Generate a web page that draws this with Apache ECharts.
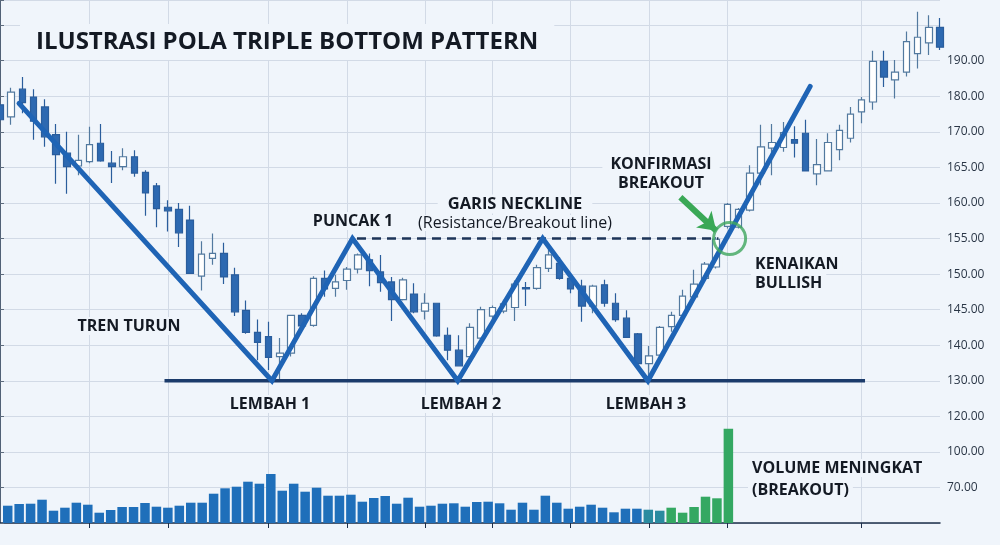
<!DOCTYPE html>
<html>
<head>
<meta charset="utf-8">
<title>Ilustrasi Pola Triple Bottom</title>
<script src="https://cdn.jsdelivr.net/npm/echarts@6.0.0/dist/echarts.min.js"></script>
<style>
  html, body { margin: 0; padding: 0; background: #f0f5fb; }
  #chart { width: 1000px; height: 545px; }
</style>
</head>
<body>
<div id="chart"></div>
<script>
// hari perdagangan (kategori sumbu x)
var days = [];
for (var i = 0; i < 85; i++) { days.push('H' + (i + 1)); }

// [open, close, low, high]
var ohlc = [
  [173.8, 171.7, 171.0, 174.8], [172.1, 175.6, 171.0, 176.2], [176.0, 174.1, 172.6, 177.7],
  [174.9, 171.5, 168.9, 176.0], [173.5, 169.3, 167.9, 174.6], [169.6, 166.8, 162.7, 171.1],
  [167.0, 165.1, 161.3, 170.0], [165.2, 166.0, 163.9, 169.6], [165.8, 168.2, 165.6, 170.7],
  [168.4, 165.9, 165.8, 171.1], [165.6, 165.1, 162.8, 167.3], [165.1, 166.5, 164.6, 167.7],
  [166.5, 164.2, 163.7, 167.4], [164.3, 161.4, 158.2, 164.6], [162.4, 159.2, 156.6, 162.8],
  [159.4, 158.9, 156.0, 160.4], [159.1, 155.8, 153.8, 160.0], [157.6, 150.1, 150.0, 159.6],
  [149.7, 152.8, 147.7, 154.6], [152.2, 152.9, 151.3, 155.7], [152.9, 149.6, 148.6, 154.4],
  [149.9, 144.7, 144.1, 150.9], [144.9, 141.8, 141.6, 146.3], [141.8, 140.4, 137.9, 143.6],
  [141.2, 138.3, 136.5, 143.3], [138.4, 138.9, 135.1, 141.0], [138.9, 144.2, 138.4, 144.2],
  [144.2, 142.7, 142.1, 144.5], [142.8, 149.4, 142.6, 149.7], [149.4, 147.9, 146.8, 150.5],
  [148.0, 148.9, 146.8, 149.9], [149.1, 150.7, 147.8, 151.0], [150.7, 152.7, 150.1, 152.9],
  [152.0, 150.5, 148.3, 152.9], [150.3, 148.8, 147.5, 152.7], [148.9, 146.4, 143.4, 149.6],
  [146.4, 149.2, 146.3, 149.5], [147.2, 144.7, 144.5, 148.7], [144.8, 145.9, 143.6, 147.3],
  [145.9, 141.3, 141.2, 145.9], [141.4, 139.3, 137.9, 142.5], [139.3, 137.1, 137.0, 141.4],
  [138.4, 142.5, 137.4, 143.1], [141.0, 145.0, 140.7, 145.4], [144.1, 145.3, 143.1, 145.6],
  [144.8, 145.8, 144.5, 146.4], [145.3, 148.6, 143.4, 149.1], [148.1, 147.9, 145.5, 148.9],
  [148.0, 150.9, 147.8, 151.3], [150.8, 152.7, 150.3, 153.8], [151.5, 149.4, 149.2, 152.4],
  [149.4, 147.9, 147.3, 149.9], [148.3, 145.5, 143.3, 149.2], [145.5, 148.3, 144.5, 148.5],
  [148.5, 145.9, 145.4, 149.2], [145.9, 143.6, 143.3, 147.3], [143.8, 141.1, 141.0, 144.9],
  [141.6, 137.4, 137.4, 141.7], [137.4, 138.5, 135.1, 139.9], [138.6, 142.5, 138.4, 142.7],
  [142.6, 144.2, 141.9, 144.7], [144.2, 146.9, 144.0, 147.8], [146.8, 148.6, 146.6, 150.6],
  [149.4, 151.4, 149.3, 151.7], [151.0, 154.9, 150.8, 155.2], [156.7, 159.8, 156.4, 160.0],
  [156.6, 159.1, 156.4, 159.3], [159.0, 164.2, 158.8, 165.3], [164.2, 167.9, 162.5, 171.0],
  [167.7, 168.5, 163.9, 171.1], [167.8, 169.9, 167.2, 171.4], [168.9, 168.4, 166.4, 170.8],
  [169.8, 164.5, 164.5, 171.7], [164.1, 165.4, 162.5, 169.0], [164.5, 168.5, 164.5, 169.8],
  [167.5, 170.2, 166.0, 171.0], [169.1, 172.5, 168.5, 173.5], [172.8, 174.5, 171.2, 174.9],
  [174.2, 179.9, 173.1, 181.4], [179.9, 177.7, 176.3, 181.4], [177.3, 178.4, 174.7, 180.1],
  [178.4, 182.7, 177.8, 184.1], [181.0, 183.3, 178.9, 186.9], [182.5, 184.7, 180.8, 186.4],
  [184.7, 181.9, 181.5, 186.0]
];

// volume per batang
var volumes = [
  17.3, 19, 19.3, 23.3, 12.3, 15.3, 20.3, 18.3, 10.3, 13, 16, 16, 20, 16.3, 15.3, 17.3,
  20.3, 20.3, 29.3, 34.7, 36.3, 41.3, 39.3, 49, 32.3, 39.3, 31.3, 35.3, 27.3, 27.3, 28.3, 21.3,
  25, 27, 19.3, 25.3, 16.3, 17.3, 19.3, 19.7, 16.3, 21, 21.3, 19.7, 13.3, 20.3, 13.3, 27.3,
  20.3, 14.3, 16.3, 18.3, 15.3, 10.7, 14.3, 14.3, 13.3, 12.3, 15.3, 10.3, 16, 26.3, 24.7, 94.3
];
var volumeDays = days.slice(0, 82);

// label sumbu harga (tingkat garis -> teks)
var priceLevels = [180, 175, 170, 165, 160, 155, 150, 145, 140, 135, 130, 125, 120];
var priceLabels = ['190.00', '180.00', '170.00', '165.00', '160.00', '155.00', '150.00',
                   '145.00', '140.00', '130.00', '120.00', '100.00', '70.00'];

// garis pola triple bottom (x = indeks hari)
var patternX = [1.7, 24.3, 31.5, 40.9, 48.5, 57.9, 72.4];
var patternY = [174.0, 135.0, 155.0, 135.0, 155.0, 135.0, 176.4];
var supportLevel = 135;
var supportX = [14.7, 77.3];
var necklineLevel = 155;
var necklineX = [31.9, 64.2];
var breakoutPoint = [65.2, 155];
var arrowFrom = [60.8, 160.8];
var arrowTo = [64.0, 156.1];

// kolom garis vertikal
var gridCols = [8, 15, 24, 31, 38, 44, 51, 58, 65, 77];
var transitionAt = 56, breakoutAt = 58;

var BG = '#f0f5fb';
var FONT = '"Open Sans", "Noto Sans", sans-serif';
var colInterval = function (idx) { return gridCols.indexOf(idx) >= 0; };

function pts(xs, ys) {
  return xs.map(function (x, k) { return [x, ys[k]]; });
}
function txt(text, x, y, size, weight, align, pad) {
  return {
    type: 'text', x: x, y: y, z: 100,
    style: {
      text: text, fill: '#141a24', textAlign: align || 'center', textVerticalAlign: 'middle',
      font: (weight || 'bold') + ' ' + size + 'px ' + FONT,
      backgroundColor: BG, padding: pad || [1, 4]
    }
  };
}

var myChart = echarts.init(document.getElementById('chart'));
var option = {
  backgroundColor: BG,
  animation: false,
  grid: [
    { left: 0, right: 60, top: 0, bottom: 22 },
    { left: 2, right: 60, bottom: 22, height: 120 }
  ],
  xAxis: [
    {
      type: 'category', gridIndex: 0, data: days, boundaryGap: false,
      axisLine: { lineStyle: { color: '#1d2f4a', width: 1.5 } },
      axisTick: { interval: colInterval, length: 5, lineStyle: { color: '#1d2f4a' } },
      axisLabel: { show: false },
      splitLine: { show: true, interval: colInterval, lineStyle: { color: '#d2dae6', width: 1 } }
    },
    { type: 'value', gridIndex: 0, min: 0, max: days.length - 1, show: false },
    { type: 'category', gridIndex: 1, data: volumeDays, show: false }
  ],
  yAxis: [
    {
      type: 'value', gridIndex: 0, position: 'right',
      min: 115, max: 188.54, interval: 5,
      axisLine: { show: true, lineStyle: { color: '#1d2f4a', width: 1.5 } },
      axisTick: { show: true, length: 4, lineStyle: { color: '#5d6b7d' } },
      axisLabel: {
        margin: 7, color: '#2a3646', fontSize: 12, fontFamily: FONT,
        formatter: function (v) {
          var k = priceLevels.indexOf(Math.round(v * 100) / 100);
          return k >= 0 ? priceLabels[k] : '';
        }
      },
      splitLine: { lineStyle: { color: '#d2dae6', width: 1 } }
    },
    { type: 'value', gridIndex: 1, min: 0, max: 120, show: false }
  ],
  series: [
    {
      name: 'Harga', type: 'candlestick', xAxisIndex: 0, yAxisIndex: 0,
      data: ohlc, barWidth: 7, z: 2,
      itemStyle: {
        color: '#ffffff', color0: '#2d69b1',
        borderColor: '#52799f', borderColor0: '#2a5d9c', borderWidth: 1.2
      }
    },
    {
      name: 'Volume', type: 'bar', xAxisIndex: 2, yAxisIndex: 1,
      data: volumes, barWidth: 9.5, z: 2,
      itemStyle: {
        color: function (p) {
          if (p.dataIndex >= breakoutAt) return '#34a862';
          if (p.dataIndex >= transitionAt) return '#2a8ba0';
          return '#1f6fba';
        }
      }
    },
    {
      name: 'Support', type: 'line', xAxisIndex: 1, yAxisIndex: 0, z: 4,
      data: pts(supportX, [supportLevel, supportLevel]), symbol: 'none',
      lineStyle: { color: '#1b3b6b', width: 3.5 }
    },
    {
      name: 'Neckline', type: 'line', xAxisIndex: 1, yAxisIndex: 0, z: 4,
      data: pts(necklineX, [necklineLevel, necklineLevel]), symbol: 'none',
      lineStyle: { color: '#1d3458', width: 2.5, type: [9, 6] }
    },
    {
      name: 'Pola', type: 'line', xAxisIndex: 1, yAxisIndex: 0, z: 5,
      data: pts(patternX, patternY), symbol: 'none',
      lineStyle: { color: '#1f64b5', width: 5, cap: 'round', join: 'miter' }
    },
    {
      name: 'Breakout', type: 'scatter', xAxisIndex: 1, yAxisIndex: 0, z: 6,
      data: [breakoutPoint], symbol: 'circle', symbolSize: 32,
      itemStyle: { color: 'rgba(0,0,0,0)', borderColor: '#3fa65e', borderWidth: 3 }
    },
    {
      name: 'Panah', type: 'lines', coordinateSystem: 'cartesian2d',
      xAxisIndex: 1, yAxisIndex: 0, z: 6,
      symbol: ['none', 'arrow'], symbolSize: 17,
      lineStyle: { color: '#3aa856', width: 6, opacity: 1 },
      data: [{ coords: [arrowFrom, arrowTo] }]
    }
  ],
  graphic: [
    txt('ILUSTRASI POLA TRIPLE BOTTOM PATTERN', 20, 42, 24, 'bold', 'left', [6, 16]),
    txt('TREN TURUN', 129, 326, 16),
    txt('LEMBAH 1', 270, 404, 16),
    txt('LEMBAH 2', 461, 404, 16),
    txt('LEMBAH 3', 646, 404, 16),
    txt('PUNCAK 1', 353, 221, 16),
    txt('GARIS NECKLINE', 515, 204, 16.5, 'bold', 'center', [1, 10]),
    txt('(Resistance/Breakout line)', 515, 223, 16, 'normal', 'center', [0, 6]),
    txt('KONFIRMASI', 661, 164, 16, 'bold', 'center', [1, 8]),
    txt('BREAKOUT', 661, 183, 16, 'bold', 'center', [0, 8]),
    txt('KENAIKAN', 751, 264, 16, 'bold', 'left'),
    txt('BULLISH', 751, 283, 16, 'bold', 'left'),
    txt('VOLUME MENINGKAT', 748, 468, 16, 'bold', 'left'),
    txt('(BREAKOUT)', 748, 490, 16, 'bold', 'left')
  ]
};
myChart.setOption(option, true);
</script>
</body>
</html>
